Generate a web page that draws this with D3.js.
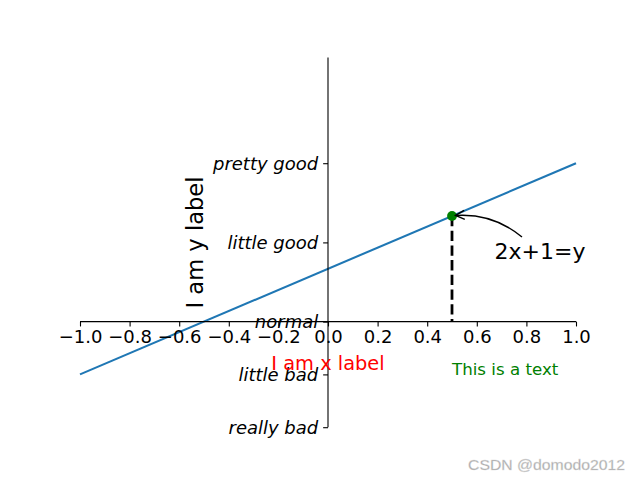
<!DOCTYPE html>
<html>
<head>
<meta charset="utf-8">
<script src="https://cdn.jsdelivr.net/npm/d3@7"></script>
<style>
  html, body { margin: 0; padding: 0; background: #fff; }
  svg { display: block; }
</style>
</head>
<body>
<svg id="chart" width="640" height="480"></svg>
<script>
// ---- data ----
const lineX = [-1, 1];
const lineY = [-1, 3];           // y = 2x + 1
const xTicks = [-1.0, -0.8, -0.6, -0.4, -0.2, 0.0, 0.2, 0.4, 0.6, 0.8, 1.0];
const yTicks = [-2, -1, 0, 1.5, 3];
const yTickLabels = ["really bad", "little bad", "normal", "little good", "pretty good"];
const pointX = [0.5];
const pointY = [2];
const annotationText = "2x+1=y";
const freeText = "This is a text";
const freeTextPos = [0.5, -1];
const xLabel = "I am x label";
const yLabel = "I am y label";
const watermark = "CSDN @domodo2012";

// ---- layout ----
const plotL = 80, plotR = 576, plotT = 57.6, plotB = 427.2;
const svg = d3.select("#chart");
const x = d3.scaleLinear().domain([-1, 1]).range([plotL, plotR]);
const y = d3.scaleLinear().domain([-2, 5]).range([plotB, plotT]);
const FONT = "DejaVu Sans, sans-serif";
const TICKFS = 18;

// line
const pts = lineX.map((v, i) => [v, lineY[i]]);
svg.append("path")
  .attr("d", d3.line().x(d => x(d[0])).y(d => y(d[1]))(pts))
  .attr("fill", "none").attr("stroke", "#1f77b4").attr("stroke-width", 2.08);

// dashed vertical
svg.append("line")
  .attr("x1", x(pointX[0])).attr("x2", x(pointX[0]))
  .attr("y1", y(pointY[0])).attr("y2", y(0))
  .attr("stroke", "#000").attr("stroke-width", 2.78)
  .attr("stroke-dasharray", "10.3,4.4");

// scatter
svg.selectAll("circle.pt").data(pointX).enter().append("circle")
  .attr("cx", d => x(d)).attr("cy", (d, i) => y(pointY[i]))
  .attr("r", 4.9).attr("fill", "#008000");

// axes
const xAxis = d3.axisBottom(x).tickValues(xTicks).tickSize(4.86).tickPadding(3.5)
  .tickFormat(d => d3.format(".1f")(d).replace("-", "\u2212").replace("\u22120.0", "0.0"));
const gx = svg.append("g").attr("transform", `translate(0,${y(0)})`).call(xAxis);
gx.attr("font-family", null).attr("font-size", null);
gx.select(".domain").attr("d", `M${plotL},0H${plotR}`).attr("stroke", "#000").attr("stroke-width", 1.1);
gx.selectAll(".tick line").attr("stroke", "#000").attr("stroke-width", 1.1);
gx.selectAll(".tick text").attr("font-family", FONT).attr("font-size", TICKFS)
  .attr("fill", "#000").attr("dy", "0.75em");

const yAxis = d3.axisLeft(y).tickValues(yTicks).tickSize(4.86).tickPadding(4.9)
  .tickFormat((d, i) => yTickLabels[i]);
const gy = svg.append("g").attr("transform", `translate(${x(0)},0)`).call(yAxis);
gy.attr("font-family", null).attr("font-size", null);
gy.select(".domain").attr("d", `M0,${plotT}V${plotB}`).attr("stroke", "#000").attr("stroke-width", 1.1);
gy.selectAll(".tick line").attr("stroke", "#000").attr("stroke-width", 1.1);
gy.selectAll(".tick text").attr("font-family", FONT).attr("font-size", TICKFS)
  .attr("font-style", "italic").attr("fill", "#000").attr("dy", 6.1);

// axis labels
svg.append("text").attr("x", x(0)).attr("y", 370)
  .attr("text-anchor", "middle").attr("font-family", FONT).attr("font-size", 19.4)
  .attr("fill", "#ff0000").text(xLabel);
svg.append("text").attr("transform", `translate(202.5,242.5) rotate(-90)`)
  .attr("text-anchor", "middle").attr("font-family", FONT).attr("font-size", 22.6)
  .attr("fill", "#000").text(yLabel);

// free text
svg.append("text").attr("x", x(freeTextPos[0])).attr("y", y(freeTextPos[1]) + 0.5)
  .attr("font-family", FONT).attr("font-size", 16.67).attr("fill", "#008000").text(freeText);

// annotation
const px = x(pointX[0]), py = y(pointY[0]);
const tx = px + 42.5, ty = py + 43;
svg.append("text").attr("x", tx).attr("y", ty)
  .attr("font-family", FONT).attr("font-size", 22).attr("fill", "#000").text(annotationText);
const S = [522, 237], E = [px + 3.5, py - 0.5];
// arc3 rad=.2 computed in display coords (y up)
const dxd = E[0] - S[0], dyd = -(E[1] - S[1]);
const Cx = (S[0] + E[0]) / 2 + 0.2 * dyd;
const Cy = (S[1] + E[1]) / 2 + 0.2 * dxd;
svg.append("path")
  .attr("d", `M${S[0]},${S[1]}Q${Cx},${Cy} ${E[0]},${E[1]}`)
  .attr("fill", "none").attr("stroke", "#000").attr("stroke-width", 1.4);
// arrow head "->"
const ang = Math.atan2(E[1] - Cy, E[0] - Cx);
const hl = 9, hw = 4.6;
const hx = E[0] - hl * Math.cos(ang), hy = E[1] - hl * Math.sin(ang);
const nx = -Math.sin(ang), ny = Math.cos(ang);
svg.append("path")
  .attr("d", `M${hx + nx * hw},${hy + ny * hw}L${E[0]},${E[1]}L${hx - nx * hw},${hy - ny * hw}`)
  .attr("fill", "none").attr("stroke", "#000").attr("stroke-width", 1.4);

// watermark
svg.append("text").attr("x", 468).attr("y", 469.5)
  .attr("textLength", 157).attr("lengthAdjust", "spacingAndGlyphs")
  .attr("font-family", "Liberation Sans, Arial, sans-serif").attr("font-size", 14.7)
  .attr("fill", "#a0a0a0").attr("stroke", "#e0e0e0").attr("stroke-width", 0.4)
  .text(watermark);
</script>
</body>
</html>
